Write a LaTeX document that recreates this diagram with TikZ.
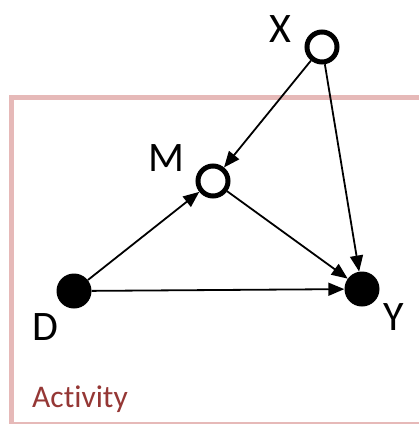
\documentclass[tikz,border=0pt]{standalone}
\usepackage{fontspec}
\setmainfont[Ligatures=NoCommon]{Carlito}
\usetikzlibrary{arrows.meta}
\definecolor{boxpink}{HTML}{E6B9B8}
\definecolor{actred}{HTML}{953735}
\begin{document}
\begin{tikzpicture}[x=1pt,y=-1pt,
  opennode/.style={circle,draw,line width=5pt,minimum size=30pt,inner sep=0pt,fill=white},
  fullnode/.style={circle,fill=black,minimum size=35pt,inner sep=0pt},
  varlabel/.style={anchor=base,font=\fontsize{42pt}{42pt}\selectfont,inner sep=0pt},
  edge/.style={line width=1.8pt,-{Triangle[length=16pt,width=13pt]}}]
\useasboundingbox (0,0) rectangle (419,424);
\begin{scope}
\clip (0,0) rectangle (419,424);
\draw[boxpink,line width=5pt] (11,97) rectangle (440,424.5);
\end{scope}
\node[anchor=base west,inner sep=0pt,text=actred,font=\fontsize{31.5pt}{31.5pt}\selectfont] (act) at (32,407) {Activity};
\node[opennode] (X) at (322,47) {};
\node[opennode] (M) at (213,181) {};
\node[fullnode] (D) at (74,291) {};
\node[fullnode] (Y) at (362,289) {};
\node[varlabel] (lx) at (280,42) {X};
\node[varlabel] (lm) at (166.5,171) {M};
\node[varlabel] (ld) at (45,340) {D};
\node[varlabel] (ly) at (394,330) {Y};
\draw[edge] (X) -- (M);
\draw[edge] (X) -- (Y);
\draw[edge] (M) -- (Y);
\draw[edge] (D) -- (M);
\draw[edge] (D) -- (Y);
\end{tikzpicture}
\end{document}
